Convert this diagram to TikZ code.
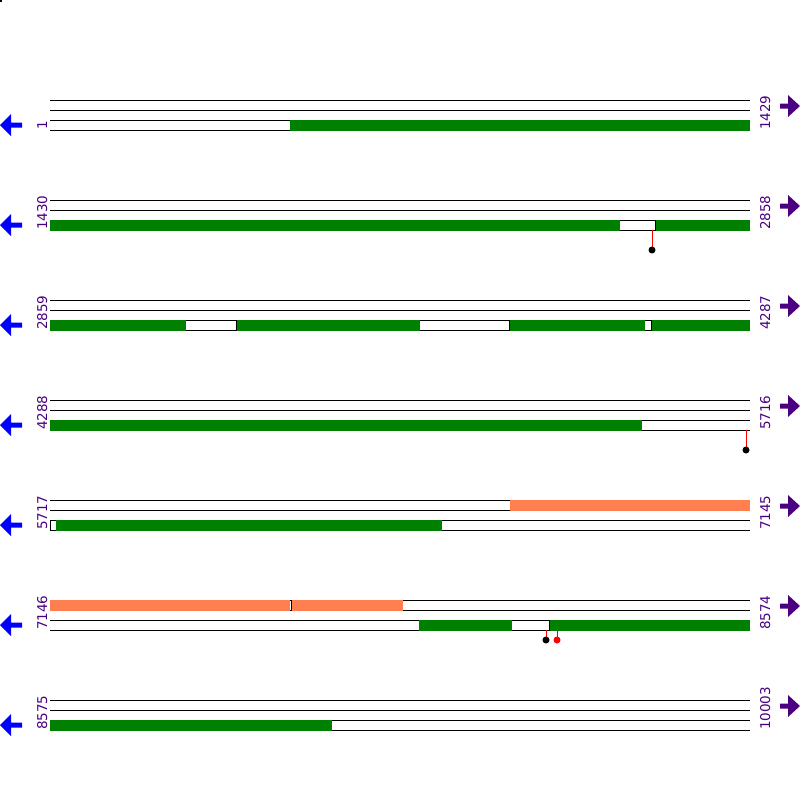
\documentclass[tikz,border=0pt]{standalone}
\usepackage{fontspec}
\setmainfont{DejaVu Sans}
\definecolor{cdsgreen}{HTML}{008000}
\definecolor{coral}{HTML}{FF7F50}
\definecolor{indigo}{HTML}{4B0082}
\tikzset{strand/.style = {line width=1pt},
         cds/.style = {fill=cdsgreen},
         orf/.style = {fill=coral},
         edge/.style = {line width=1pt},
         seqpos/.style = {text=indigo, rotate=90, anchor=base west, inner sep=0pt,
                          font=\fontsize{13.5}{14}\selectfont},
         stem/.style = {red, line width=1pt},
         backarrow/.style = {fill=blue},
         fwdarrow/.style = {fill=indigo}}

\begin{document}
\begin{tikzpicture}[x=1pt,y=1pt]
\useasboundingbox (0,0) rectangle (800,-800);
\fill (0,0) rectangle (2,-2);
% strands and direction arrows
\foreach \r in {100,200,...,700} {
  \foreach \d in {0,10,20,30}
    \draw[strand] (50,-\r-\d) -- (750,-\r-\d);
  \fill[backarrow] (0,-\r-25) -- (11,-\r-14) -- (11,-\r-22.5) -- (22,-\r-22.5)
    -- (22,-\r-27.5) -- (11,-\r-27.5) -- (11,-\r-36) -- cycle;
  \fill[fwdarrow] (800,-\r-6) -- (788,-\r+5) -- (788,-\r-3.5) -- (780,-\r-3.5)
    -- (780,-\r-8.5) -- (788,-\r-8.5) -- (788,-\r-17) -- cycle;
}
% row 1
\fill[cds] (290,-119.5) rectangle (750,-130.5);
% row 2
\fill[cds] (50,-219.5) rectangle (620,-230.5);
\fill[cds] (655.5,-219.5) rectangle (750,-230.5);
\draw[edge] (655,-220) -- (655,-230);
% row 3
\fill[cds] (50,-319.5) rectangle (186,-330.5);
\fill[cds] (236.5,-319.5) rectangle (420,-330.5);
\fill[cds] (509.5,-319.5) rectangle (645,-330.5);
\fill[cds] (651.5,-319.5) rectangle (750,-330.5);
\draw[edge] (236,-320) -- (236,-330);
\draw[edge] (509,-320) -- (509,-330);
\draw[edge] (651,-320) -- (651,-330);
% row 4
\fill[cds] (50,-419.5) rectangle (642,-430.5);
% row 5
\fill[orf] (510,-499.5) rectangle (750,-510.5);
\fill[cds] (56,-519.5) rectangle (442,-530.5);
\draw[edge] (50,-520) -- (50,-530);
% row 6
\fill[orf] (50,-599.5) rectangle (290,-610.5);
\fill[orf] (292,-599.5) rectangle (403,-610.5);
\draw[edge] (291,-600) -- (291,-610);
\fill[cds] (419,-619.5) rectangle (512,-630.5);
\fill[cds] (549.5,-619.5) rectangle (750,-630.5);
\draw[edge] (549,-620) -- (549,-630);
% row 7
\fill[cds] (50,-719.5) rectangle (332,-730.5);
% sites
\draw[stem] (652,-230) -- (652,-250);
\fill (652,-250) circle (3.5);
\draw[stem] (746,-430) -- (746,-450);
\fill (746,-450) circle (3.5);
\draw[stem] (546,-630) -- (546,-640);
\fill (546,-640) circle (3.5);
\draw[stem] (557,-630) -- (557,-640);
\fill[red] (557,-640) circle (3.5);
% positions
\node[seqpos] (start1) at (47,-130) {1};
\node[seqpos] (end1) at (770,-130) {1429};
\node[seqpos] (start2) at (47,-230) {1430};
\node[seqpos] (end2) at (770,-230) {2858};
\node[seqpos] (start3) at (47,-330) {2859};
\node[seqpos] (end3) at (770,-330) {4287};
\node[seqpos] (start4) at (47,-430) {4288};
\node[seqpos] (end4) at (770,-430) {5716};
\node[seqpos] (start5) at (47,-530) {5717};
\node[seqpos] (end5) at (770,-530) {7145};
\node[seqpos] (start6) at (47,-630) {7146};
\node[seqpos] (end6) at (770,-630) {8574};
\node[seqpos] (start7) at (47,-730) {8575};
\node[seqpos] (end7) at (770,-730) {10003};
\end{tikzpicture}
\end{document}
